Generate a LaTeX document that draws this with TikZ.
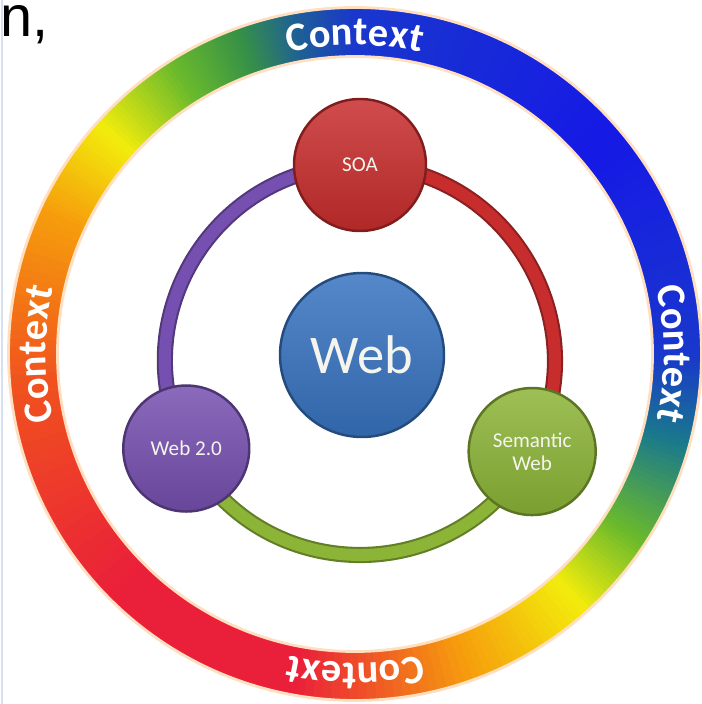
\documentclass[tikz,border=0pt]{standalone}
\usepackage{fontspec}
\setmainfont{Carlito}
\newfontfamily\lsans{Liberation Sans}
\usetikzlibrary{backgrounds}
\tikzset{>=latex}

\definecolor{rgY}{RGB}{242,236,12}
\definecolor{rgG}{RGB}{105,185,45}
\definecolor{rgGr}{RGB}{55,145,70}
\definecolor{rgT}{RGB}{25,120,140}
\definecolor{rgB}{RGB}{25,55,205}
\definecolor{rgBd}{RGB}{22,25,230}
\definecolor{rgBG}{RGB}{30,95,150}
\definecolor{rgO}{RGB}{246,158,12}
\definecolor{rgOR}{RGB}{240,82,30}
\definecolor{rgR}{RGB}{234,32,58}
\definecolor{soaRed}{RGB}{200,45,45}
\definecolor{wtoPurple}{RGB}{118,80,176}
\definecolor{semGreen}{RGB}{140,180,55}
\definecolor{webBlue}{RGB}{55,115,192}

\newcommand{\ringfont}{\bfseries\fontsize{11.5}{13}\selectfont}

\tikzset{
	hub/.style={circle, draw=#1!65!black, line width=0.7pt, top color=#1!85!white, bottom color=#1!88!black,
		text={rgb,255:red,245;green,245;blue,238}, font=\fontsize{6}{7.5}\selectfont, minimum size=1.3cm, inner sep=0pt, align=center},
	link/.style={draw=#1!70!black, line width=0.6pt, double=#1, double distance=3.4pt},
	ringchar/.style={anchor=base, inner sep=0pt, text=white, font=\ringfont}
}

\begin{document}
\begin{tikzpicture}
	\useasboundingbox (0,0) rectangle (7.01,7.04);
	\draw[line width=0.6pt, color={rgb,255:red,214;green,224;blue,240}] (0.02,0) -- (0.02,7.04);
	\node[anchor=base west, inner sep=0pt, font=\lsans\fontsize{16.4}{18}\selectfont] (frag) at (0.0,6.67) {n,};

	% colour ring
	\begin{scope}[shift={(3.55,3.50)}]
		\foreach \aa/\ab/\ca/\cb in {-48/-33/rgY/rgG, -33/-15/rgG/rgT, -15/0/rgT/rgB, 0/40/rgB/rgBd,
				40/90/rgBd/rgB, 90/100/rgB/rgBG, 100/110/rgBG/rgGr, 110/122/rgGr/rgG, 122/138/rgG/rgY,
				138/155/rgY/rgO, 155/185/rgO/rgOR, 185/225/rgOR/rgR, 225/260/rgR/rgR, 260/290/rgR/rgO,
				290/312/rgO/rgY}{
			\foreach \i in {0,...,19}{
				\pgfmathsetmacro\p{97.5-5*\i}
				\pgfmathsetmacro\s{\aa+(\ab-\aa)*\i/20}
				\pgfmathsetmacro\e{\s+(\ab-\aa)/20+0.3}
				\fill[\ca!\p!\cb] (\s:2.98) arc[start angle=\s, end angle=\e, radius=2.98]
					-- (\e:3.46) arc[start angle=\e, end angle=\s, radius=3.46] -- cycle;
			}
		}
		\draw[orange!25, line width=0.8pt] (0,0) circle[radius=3.465] (0,0) circle[radius=2.975];

		% "Context" letter by letter, tops outward
		\foreach \c in {90,0,270,180}
			\foreach \ch/\off [count=\k] in {C/-10.4, o/-6.35, n/-2.3, t/1.05, e/4.25, x/7.95, t/11.05}
				\node[ringchar, rotate=\c-\off-90] (ctx\c-\k) at (\c-\off:3.09) {\ch};
	\end{scope}

	% loop of nodes
	\begin{scope}[shift={(3.60,3.44)}]
		\node[hub=soaRed, minimum size=1.32cm] (soa) at (90:1.95) {SOA};
		\node[hub=semGreen, minimum size=1.27cm] (sem) at (-28:1.95) {Semantic\\[-1pt]Web};
		\node[hub=wtoPurple, minimum size=1.26cm] (wto) at (207:1.95) {Web 2.0};
		\node[hub=webBlue, minimum size=1.64cm, font=\fontsize{15.5}{17}\selectfont] (web) at (0.02,0.05) {Web};

		\begin{scope}[on background layer]
			\draw[link=soaRed] (soa.center) to[bend left=59, looseness=1.12] (sem.center);
			\draw[link=semGreen] (sem.center) to[bend left=62.5, looseness=1.165] (wto.center);
			\draw[link=wtoPurple] (wto.center) to[bend left=58.5, looseness=1.12] (soa.center);
		\end{scope}
	\end{scope}
\end{tikzpicture}
\end{document}
